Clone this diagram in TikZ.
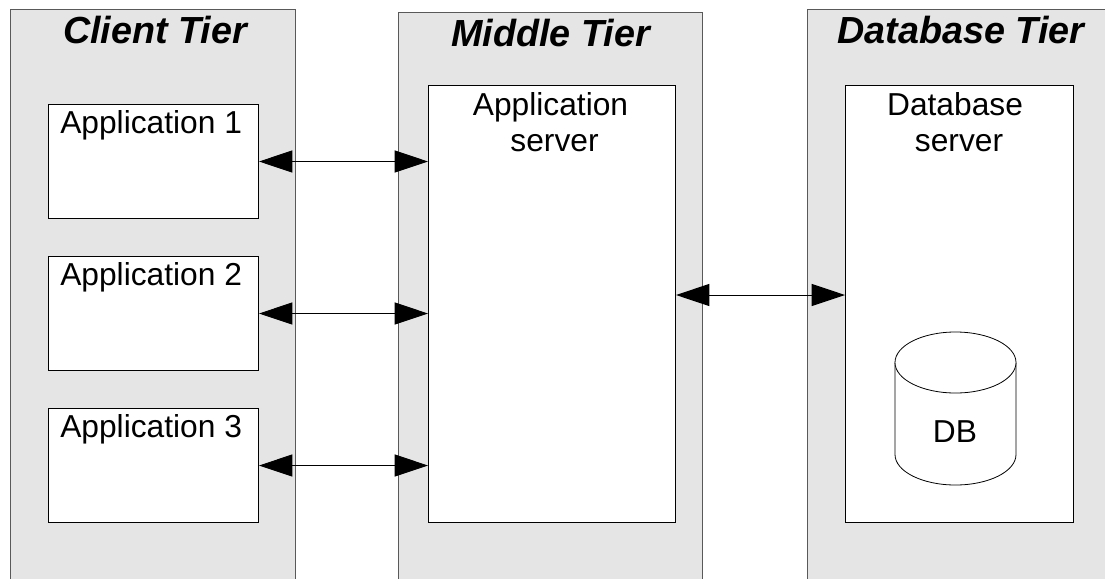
\documentclass[tikz,border=0pt]{standalone}
\usepackage{fontspec}
\setmainfont{Liberation Sans}
\usetikzlibrary{arrows.meta}
\tikzset{
  tier/.style={draw=black!65, fill=black!10, line width=0.75pt, anchor=north west, inner sep=0pt},
  box/.style={draw=black, fill=white, line width=0.75pt, anchor=north west, inner sep=0pt},
  tiertitle/.style={font=\fontsize{28.3}{30}\selectfont\bfseries\itshape, inner sep=0pt, anchor=base},
  boxtext/.style={font=\fontsize{23.8}{27}\selectfont, inner sep=0pt, anchor=base},
  servertext/.style={font=\fontsize{23.8}{27}\selectfont, inner sep=0pt, align=center, anchor=base},
  link/.style={line width=0.75pt, {Triangle[length=25pt, width=16.5pt]}-{Triangle[length=25pt, width=16.5pt]}},
  dbline/.style={draw=black, fill=white, line width=0.6pt}
}
\begin{document}
\begin{tikzpicture}[x=0.75pt, y=-0.75pt]
\useasboundingbox (0,0) rectangle (1105,578);
\begin{scope}
\clip (0,0) rectangle (1105,578);
\node (client) [tier, minimum width=213.75pt, minimum height=450pt] at (10,9) {};
\node (middle) [tier, minimum width=228pt, minimum height=450pt] at (398,12) {};
\node (database) [tier, minimum width=240pt, minimum height=450pt] at (807,9) {};
\end{scope}
\node (clienttitle) [tiertitle] at (155,43) {Client Tier};
\node (middletitle) [tiertitle] at (550.5,46) {Middle Tier};
\node (databasetitle) [tiertitle] at (961,43) {Database Tier};
\node (app1) [box, minimum width=157.5pt, minimum height=85.5pt] at (48,104) {};
\node (app2) [box, minimum width=157.5pt, minimum height=85.5pt] at (48,256) {};
\node (app3) [box, minimum width=157.5pt, minimum height=85.5pt] at (48,408) {};
\node (appserver) [box, minimum width=185.25pt, minimum height=328pt] at (428,85) {};
\node (dbserver) [box, minimum width=171pt, minimum height=328pt] at (845,85) {};
\node (app1text) [boxtext, anchor=base west] at (60,133) {Application 1};
\node (app2text) [boxtext, anchor=base west] at (60,285) {Application 2};
\node (app3text) [boxtext, anchor=base west] at (60,437) {Application 3};
\node (appservertext) [servertext] at (550.5,151) {Application\\ \hspace*{6pt}server};
\node (dbservertext) [servertext] at (955,151) {Database\\ \hspace*{6pt}server};
% database drum
\draw[dbline] (895,362.5) -- (895,454.5) arc[start angle=180, end angle=0, x radius=60.5, y radius=30.5] -- (1016,362.5);
\draw[dbline] (955.5,362.5) ellipse [x radius=60.5, y radius=30.5];
\node (dbtext) [boxtext] at (955,442.5) {DB};
\coordinate (dblink) at (0,295);
\draw[link] (app1.east) -- (appserver.west |- app1.east);
\draw[link] (app2.east) -- (appserver.west |- app2.east);
\draw[link] (app3.east) -- (appserver.west |- app3.east);
\draw[link] (appserver.east |- dblink) -- (dbserver.west |- dblink);
\end{tikzpicture}
\end{document}
